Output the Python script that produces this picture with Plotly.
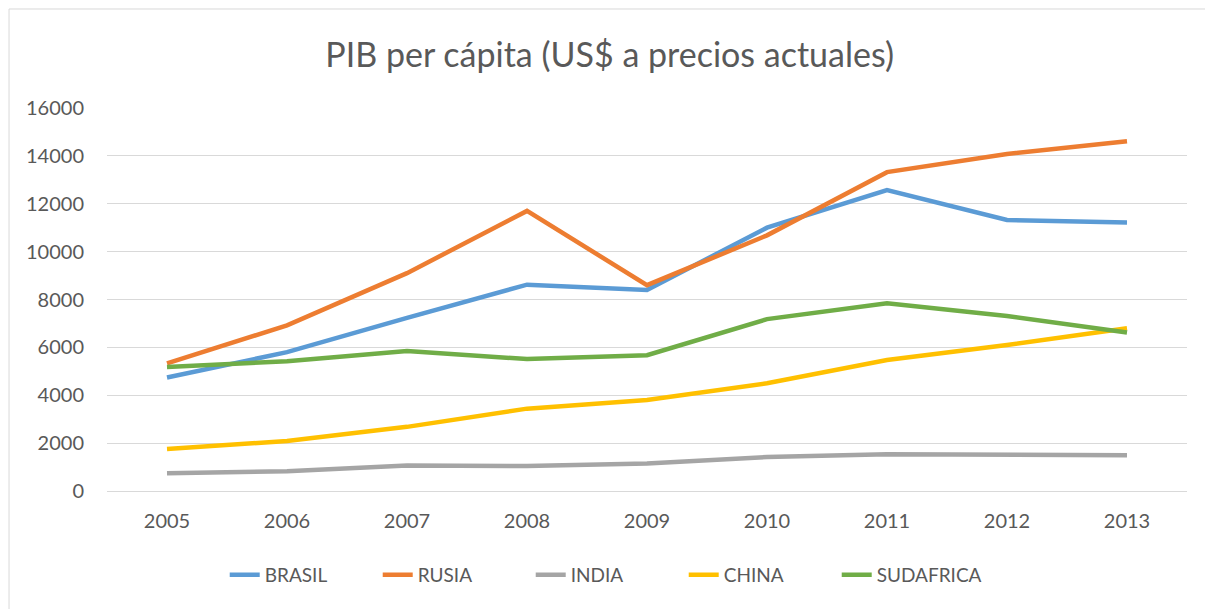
import plotly.graph_objects as go

years = ["2005", "2006", "2007", "2008", "2009", "2010", "2011", "2012", "2013"]
brasil = [4740, 5800, 7230, 8620, 8400, 11000, 12570, 11320, 11220]
rusia = [5330, 6920, 9100, 11700, 8600, 10680, 13320, 14080, 14610]
india = [740, 830, 1070, 1040, 1150, 1420, 1540, 1500, 1490]
china = [1750, 2090, 2680, 3440, 3800, 4500, 5470, 6100, 6800]
sudafrica = [5180, 5420, 5850, 5510, 5670, 7180, 7840, 7310, 6620]

series = [
    ("BRASIL", brasil, "#5B9BD5"),
    ("RUSIA", rusia, "#ED7D31"),
    ("INDIA", india, "#A5A5A5"),
    ("CHINA", china, "#FFC000"),
    ("SUDAFRICA", sudafrica, "#70AD47"),
]

fig = go.Figure()
for name, vals, col in series:
    fig.add_trace(go.Scatter(x=years, y=vals, mode="lines", name=name,
                             line=dict(color=col, width=4.5)))

# page body adds 8px, margins below are set with that in mind
fig.update_layout(
    width=1213, height=609,
    paper_bgcolor="white", plot_bgcolor="white",
    font=dict(family="Lato, Open Sans, sans-serif", color="#595959", size=20),
    title=dict(text="PIB per cápita (US$ a precios actuales)", x=0.496, xanchor="center",
               y=0.923, yanchor="middle", font=dict(size=34, color="#595959")),
    margin=dict(l=99, r=34, t=100, b=126),
    legend=dict(orientation="h", x=0.109, xanchor="left", y=-0.219, yanchor="middle",
                font=dict(size=19, color="#595959"), tracegroupgap=0,
                entrywidth=108, entrywidthmode="pixels"),
    showlegend=True,
)
fig.update_xaxes(type="category", range=[-0.5, 8.5], showgrid=False, showline=True,
                 linecolor="#D9D9D9", linewidth=1, ticks="", ticklabelstandoff=12)
fig.update_yaxes(range=[0, 16000], dtick=2000, tickformat="d", showgrid=True,
                 gridcolor="#D9D9D9", gridwidth=1, zeroline=False, showline=False,
                 ticks="", ticklabelstandoff=22)
# chart frame: only the left and top edges fall inside the window
fig.add_shape(type="line", xref="paper", yref="paper", x0=-0.0907, x1=-0.0907, y0=-0.5, y1=1.2585,
              line=dict(color="#D9D9D9", width=1), layer="below")
fig.add_shape(type="line", xref="paper", yref="paper", x0=-0.0907, x1=1.2, y0=1.2585, y1=1.2585,
              line=dict(color="#D9D9D9", width=1), layer="below")

fig.write_html("out.html")
